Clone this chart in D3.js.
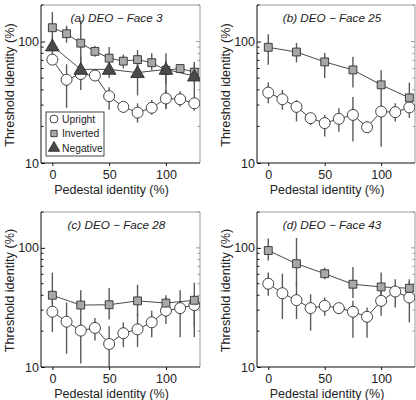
<!DOCTYPE html>
<html><head><meta charset="utf-8">
<script src="https://cdn.jsdelivr.net/npm/d3@7"></script>
<style>body{margin:0;background:#fff}svg{display:block;font-family:"Liberation Sans",Arial,sans-serif}</style>
</head><body><svg id="c" width="416" height="400"></svg>
<script>
// ---- data ----
const xFull = [0, 12.5, 25, 37.5, 50, 62.5, 75, 87.5, 100, 112.5, 125];
const xHalf = [0, 25, 50, 75, 100, 125];
const xTicks = [0, 50, 100];
const yTicks = [10, 100];
const titles = ["(a) DEO \u2212 Face 3", "(b) DEO \u2212 Face 25", "(c) DEO \u2212 Face 28", "(d) DEO \u2212 Face 43"];
const legendLabels = ["Upright", "Inverted", "Negative"];

// panel (a)
const aUpright   = [71, 48.5, 54, 52.5, 35.5, 29, 26, 28.5, 34, 33.5, 31];
const aUprightLo = [66, 28.5, 50, 48, 27.5, 26, 21.5, 25, 28, 29, 27];
const aUprightHi = [76, 65, 58, 58, 42, 32, 31, 33, 40, 39, 35];
const aInverted   = [130, 116, 97, 83, 73, 69, 71, 67, 58, 60, 56];
const aInvertedLo = [100, 98, 60, 75, 60, 60, 60, 58, 45, 55, 48];
const aInvertedHi = [175, 135, 150, 92, 90, 78, 85, 80, 80, 64, 65];
const aNegative   = [92, 59, 59, 55.5, 59, 52];
const aNegativeLo = [75, 40, 50, 36, 28, 35];
const aNegativeHi = [110, 75, 72, 70, 70, 68];

// panel (b)
const bUpright   = [38, 33.5, 29, 23.4, 21.3, 23.1, 24.9, 19.7, 26.5, 26.2, 28.7];
const bUprightLo = [31, 27.4, 22, 20.6, 16.5, 18.1, 15, 18.5, 13.6, 22, 23.5];
const bUprightHi = [46, 40, 33, 25.8, 24.9, 28.3, 35, 21, 35, 31, 33];
const bInverted   = [89.7, 82, 68, 58.4, 44, 34.4];
const bInvertedLo = [64.5, 67.4, 50, 41.8, 35, 27];
const bInvertedHi = [115, 97.6, 80.5, 74.8, 58, 46];

// panel (c)
const cUpright   = [29.1, 24, 20.2, 21.3, 15.6, 19.2, 20.7, 23.7, 29.7, 31.2, 33.1];
const cUprightLo = [19.6, 12.9, 10.7, 16.7, 10, 14.7, 14.7, 17.8, 23, 17.8, 22];
const cUprightHi = [36, 34.8, 28, 25.8, 22, 23.7, 28, 29.7, 38.4, 44, 40];
const cInverted   = [40, 33.1, 33.3, 35.9, 34.4, 36.3];
const cInvertedLo = [34, 28, 25, 27, 30, 17.8];
const cInvertedHi = [62, 44, 46, 49, 40, 51];

// panel (d)
const dUpright   = [50, 41.6, 36.4, 31.2, 32.6, 31.2, 29.1, 26.4, 35.9, 43, 38.3];
const dUprightLo = [39.6, 25.3, 25.3, 20.2, 26.9, 29, 17.6, 17.6, 26.9, 31.6, 23.7];
const dUprightHi = [62, 60.7, 50, 40.8, 38.3, 33.5, 36, 31.6, 47.9, 54.5, 52.6];
const dInverted   = [95, 73.6, 60.7, 49.5, 47, 45.8];
const dInvertedLo = [78.4, 48, 54.5, 38, 39.6, 38];
const dInvertedHi = [119.6, 121, 68, 69, 62, 54.5];

// ---- build ----
const panels = [
  {title: titles[0], box: [41, 200, 5, 163], legend: true, series: [
    {kind: "up", x: xFull, y: aUpright, lo: aUprightLo, hi: aUprightHi},
    {kind: "inv", x: xFull, y: aInverted, lo: aInvertedLo, hi: aInvertedHi},
    {kind: "neg", x: xHalf, y: aNegative, lo: aNegativeLo, hi: aNegativeHi}]},
  {title: titles[1], box: [257, 415, 5, 163], series: [
    {kind: "up", x: xFull, y: bUpright, lo: bUprightLo, hi: bUprightHi},
    {kind: "inv", x: xHalf, y: bInverted, lo: bInvertedLo, hi: bInvertedHi}]},
  {title: titles[2], box: [41, 200, 212, 367], series: [
    {kind: "up", x: xFull, y: cUpright, lo: cUprightLo, hi: cUprightHi},
    {kind: "inv", x: xHalf, y: cInverted, lo: cInvertedLo, hi: cInvertedHi}]},
  {title: titles[3], box: [257, 415, 212, 367], series: [
    {kind: "up", x: xFull, y: dUpright, lo: dUprightLo, hi: dUprightHi},
    {kind: "inv", x: xHalf, y: dInverted, lo: dInvertedLo, hi: dInvertedHi}]}
];

const svg = d3.select("#c");
const style = {
  up: {fill: "#ffffff"},
  inv: {fill: "#a8a8a8"},
  neg: {fill: "#4a4a4a"}
};
const sym = {
  up: d3.symbol().type(d3.symbolCircle).size(95),
  inv: d3.symbol().type(d3.symbolSquare).size(62),
  neg: d3.symbol().type(d3.symbolTriangle).size(80)
};

panels.forEach((p, pi) => {
  const [L, R, T, B] = p.box;
  const x = d3.scaleLinear().domain([-10, 130]).range([L, R]);
  const y = d3.scaleLog().domain([10, 200]).range([B, T]);
  const g = svg.append("g");
  const clipId = "clip" + pi;
  svg.append("clipPath").attr("id", clipId).append("rect")
    .attr("x", L).attr("y", T).attr("width", R - L).attr("height", B - T);

  // frame: top/right gray
  g.append("line").attr("x1", L).attr("x2", R).attr("y1", T).attr("y2", T).attr("stroke", "#9a9a9a").attr("stroke-width", 1);
  g.append("line").attr("x1", R).attr("x2", R).attr("y1", T).attr("y2", B).attr("stroke", "#9a9a9a").attr("stroke-width", 1);

  // minor ticks on right (inside)
  const minor = [];
  for (let v = 20; v <= 90; v += 10) minor.push(v);
  minor.push(200);
  g.selectAll(".mr").data(minor.concat([100])).join("line")
    .attr("x1", R).attr("x2", d => R - (d === 100 ? 4 : 2.5))
    .attr("y1", d => y(d)).attr("y2", d => y(d)).attr("stroke", "#9a9a9a");

  const plot = g.append("g").attr("clip-path", `url(#${clipId})`);

  // error bars
  p.series.forEach(s => {
    plot.selectAll(null).data(s.x.map((xv, i) => ({x: xv, lo: s.lo[i], hi: s.hi[i]}))).join("line")
      .attr("x1", d => x(d.x)).attr("x2", d => x(d.x))
      .attr("y1", d => y(d.lo)).attr("y2", d => y(d.hi))
      .attr("stroke", "#5a5a5a").attr("stroke-width", 1.4);
  });
  // lines
  p.series.forEach(s => {
    const pts = s.x.map((xv, i) => [x(xv), y(s.y[i])]);
    plot.append("path").attr("d", d3.line()(pts)).attr("fill", "none")
      .attr("stroke", "#333").attr("stroke-width", 0.9);
  });
  // markers
  p.series.forEach(s => {
    plot.selectAll(null).data(s.x.map((xv, i) => [x(xv), y(s.y[i])])).join("path")
      .attr("d", sym[s.kind]).attr("transform", d => `translate(${d[0]},${d[1] + (s.kind === "neg" ? 1 : 0)})`)
      .attr("fill", style[s.kind].fill).attr("stroke", "#303030").attr("stroke-width", 0.9);
  });

  // axes
  const ax = g.append("g").attr("transform", `translate(0,${B})`)
    .call(d3.axisBottom(x).tickValues(xTicks).tickSize(3).tickPadding(4).tickFormat(d3.format("d")));
  ax.select(".domain").attr("stroke", "#111").attr("d", `M${L},0H${R}`);
  ax.selectAll("text").attr("font-size", 12.5).attr("fill", "#222").attr("font-family", "Liberation Sans, Arial, sans-serif");
  ax.selectAll(".tick line").attr("stroke", "#111");

  const ay = g.append("g").attr("transform", `translate(${L},0)`)
    .call(d3.axisLeft(y).tickValues(yTicks).tickSize(-4).tickPadding(3).tickFormat(d3.format("d")));
  ay.select(".domain").attr("stroke", "#111").attr("d", `M0,${T}V${B}`);
  ay.selectAll("text").attr("font-size", 12.5).attr("fill", "#222").attr("font-family", "Liberation Sans, Arial, sans-serif").attr("x", -2);
  ay.selectAll(".tick line").attr("stroke", "#111");
  g.selectAll(".ml").data(minor).join("line")
    .attr("x1", L).attr("x2", L + 2.5).attr("y1", d => y(d)).attr("y2", d => y(d)).attr("stroke", "#111");

  // labels
  g.append("text").attr("x", (L + R) / 2 - 9).attr("y", B + 31)
    .attr("text-anchor", "middle").attr("font-size", 12.5).attr("fill", "#222").text("Pedestal identity (%)");
  g.append("text").attr("transform", `translate(${L - 27},${(T + B) / 2 + 1}) rotate(-90)`)
    .attr("text-anchor", "middle").attr("font-size", 12.7).attr("fill", "#222").text("Threshold identity (%)");
  g.append("text").attr("x", (L + R) / 2 - 4).attr("y", T + 17)
    .attr("text-anchor", "middle").attr("font-size", 11.7).attr("font-style", "italic").attr("fill", "#222").text(p.title);

  if (p.legend) {
    const lg = g.append("g");
    lg.append("rect").attr("x", 46).attr("y", 112).attr("width", 58).attr("height", 44)
      .attr("fill", "#fff").attr("stroke", "#333").attr("stroke-width", 0.9);
    const kinds = ["up", "inv", "neg"];
    kinds.forEach((k, i) => {
      const cy = 119 + i * 14.5;
      lg.append("path").attr("d", d3.symbol().type(k === "up" ? d3.symbolCircle : k === "inv" ? d3.symbolSquare : d3.symbolTriangle).size(k === "up" ? 50 : k === "inv" ? 40 : 55))
        .attr("transform", `translate(54,${cy})`).attr("fill", style[k].fill).attr("stroke", "#303030").attr("stroke-width", 0.9);
      lg.append("text").attr("x", 62).attr("y", cy + 3.5).attr("font-size", 10.3).attr("fill", "#222").text(legendLabels[i]);
    });
  }
});
</script></body></html>
